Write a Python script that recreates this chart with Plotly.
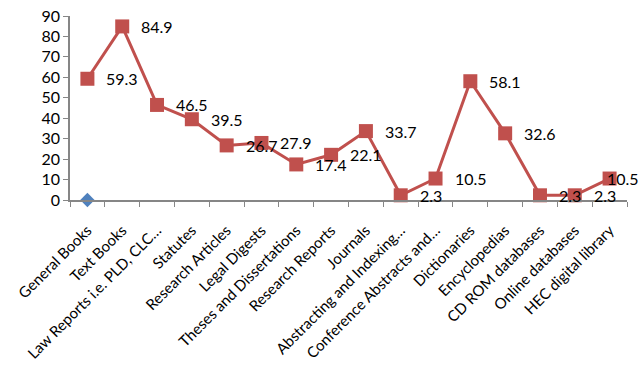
import plotly.graph_objects as go

categories = ["General Books", "Text Books", "Law Reports i.e. PLD, CLC…", "Statutes",
              "Research Articles", "Legal Digests", "Theses and Dissertations",
              "Research Reports", "Journals", "Abstracting and Indexing…",
              "Conference Abstracts and…", "Dictionaries", "Encyclopedias",
              "CD ROM databases", "Online databases", "HEC digital library"]
values = [59.3, 84.9, 46.5, 39.5, 26.7, 27.9, 17.4, 22.1, 33.7, 2.3, 10.5, 58.1, 32.6, 2.3, 2.3, 10.5]
second_cats = ["General Books"]
second_vals = [0]

FONT = "Lato, Open Sans, sans-serif"

fig = go.Figure()
fig.add_trace(go.Scatter(
    x=categories, y=values, mode="lines+markers",
    line=dict(color="#C0504D", width=3),
    marker=dict(symbol="square", size=14, color="#C0504D"),
    cliponaxis=False, showlegend=False))
fig.add_trace(go.Scatter(
    x=second_cats, y=second_vals, mode="markers",
    marker=dict(symbol="diamond", size=11, color="#4F81BD"),
    cliponaxis=False, showlegend=False))

n = len(categories)
for i, (c, v) in enumerate(zip(categories, values)):
    # last label is pushed left to stay inside the chart, as in the reference
    shift = -5 if i == n - 1 else 17
    fig.add_annotation(x=c, y=v, text=f"{v:.1f}", showarrow=False,
                       xanchor="left", yanchor="middle", xshift=shift,
                       font=dict(family=FONT, size=16, color="#000000"))

fig.update_layout(
    width=641, height=366,
    margin=dict(l=70, r=14, t=16, b=166, autoexpand=False),
    paper_bgcolor="white", plot_bgcolor="white",
    font=dict(family=FONT, size=16, color="#000000"),
    xaxis=dict(type="category", categoryorder="array", categoryarray=categories,
               range=[-0.5, n - 0.5],
               showline=True, linecolor="#868686", linewidth=1.5,
               ticks="outside", tickson="boundaries", ticklen=5, tickcolor="#868686",
               tickangle=-45, showgrid=False, automargin=False, ticklabelstandoff=14,
               tickfont=dict(family=FONT, size=15, color="#000000")),
    yaxis=dict(range=[0, 90], dtick=10, showline=True, linecolor="#868686", linewidth=1.5,
               ticks="outside", ticklen=5, tickcolor="#868686", showgrid=False,
               zeroline=False, automargin=False,
               tickfont=dict(family=FONT, size=16, color="#000000")),
)
fig.write_html("out.html")
